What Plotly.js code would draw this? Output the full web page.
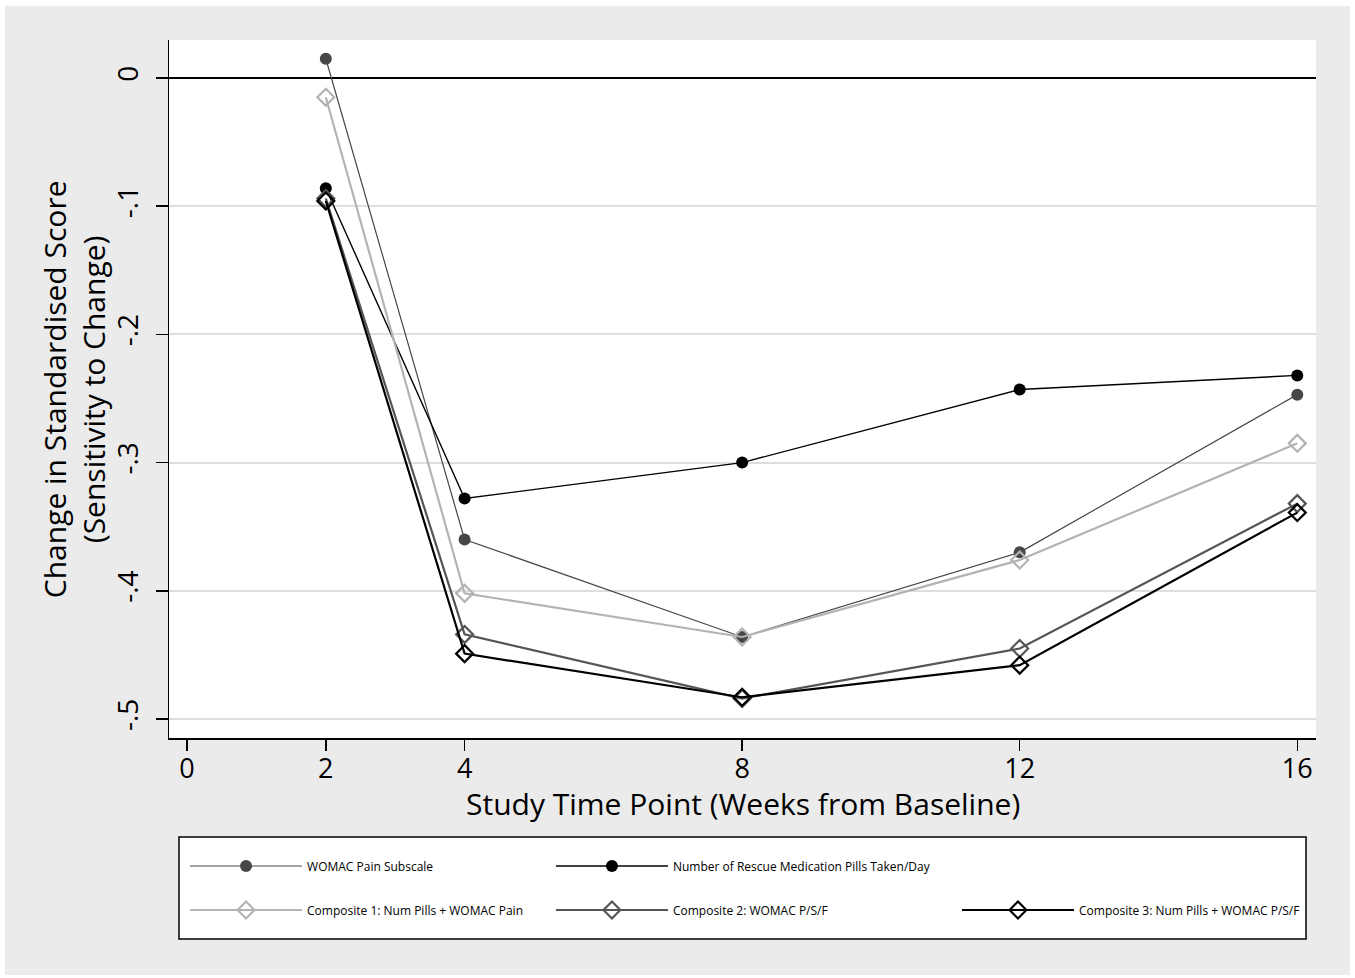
<!DOCTYPE html>
<html><head><meta charset="utf-8">
<script src="https://cdn.plot.ly/plotly-3.0.1.min.js"></script>
<style>html,body{margin:0;padding:0;background:#fff;}#chart{position:absolute;left:5px;top:6px;width:1345px;height:969px;}</style>
</head><body><div id="chart"></div>
<script>
const weeks = [2, 4, 8, 12, 16];
const womacPain = [0.015, -0.360, -0.436, -0.370, -0.247];
const rescuePills = [-0.086, -0.328, -0.300, -0.243, -0.232];
const composite1 = [-0.015, -0.402, -0.436, -0.376, -0.285];
const composite2 = [-0.094, -0.434, -0.484, -0.445, -0.332];
const composite3 = [-0.096, -0.449, -0.483, -0.458, -0.339];
const seriesNames = ["WOMAC Pain Subscale", "Number of Rescue Medication Pills Taken/Day",
  "Composite 1: Num Pills + WOMAC Pain", "Composite 2: WOMAC P/S/F", "Composite 3: Num Pills + WOMAC P/S/F"];
const xTicks = [0, 2, 4, 8, 12, 16];
const yTicks = [0, -0.1, -0.2, -0.3, -0.4, -0.5];
const yTickLabels = ["0", "-.1", "-.2", "-.3", "-.4", "-.5"];
const xTitle = 'Study Time Point (Weeks from Baseline)';
const yTitle = 'Change in Standardised Score<br>(Sensitivity to Change)';

const traces = [
  {x: weeks, y: womacPain, name: seriesNames[0], legend: 'legend', mode: 'lines+markers',
   line: {color: '#474747', width: 1.2}, marker: {symbol: 'circle', size: 12, color: '#474747'}},
  {x: weeks, y: rescuePills, name: seriesNames[1], legend: 'legend2', mode: 'lines+markers',
   line: {color: '#000000', width: 1.4}, marker: {symbol: 'circle', size: 12, color: '#000000'}},
  {x: weeks, y: composite1, name: seriesNames[2], legend: 'legend3', mode: 'lines+markers',
   line: {color: '#b3b3b3', width: 2.2}, marker: {symbol: 'diamond-open', size: 13, color: '#b3b3b3', line: {width: 2.2, color: '#b3b3b3'}}},
  {x: weeks, y: composite2, name: seriesNames[3], legend: 'legend4', mode: 'lines+markers',
   line: {color: '#555555', width: 2.2}, marker: {symbol: 'diamond-open', size: 13, color: '#555555', line: {width: 2.2, color: '#555555'}}},
  {x: weeks, y: composite3, name: seriesNames[4], legend: 'legend5', mode: 'lines+markers',
   line: {color: '#000000', width: 2.2}, marker: {symbol: 'diamond-open', size: 13, color: '#000000', line: {width: 2.2, color: '#000000'}}}
];

const legFont = {family: 'Open Sans, sans-serif', size: 12, color: '#000'};
function leg(x, y) {
  return {x: x, y: y, xanchor: 'left', yanchor: 'middle', bgcolor: 'rgba(0,0,0,0)', borderwidth: 0,
          font: legFont, itemwidth: 112, itemclick: false, itemdoubleclick: false};
}
const c1 = 0.0140, c2 = 0.3330, c3 = 0.6870, r1 = -0.1834, r2 = -0.2464;

const layout = {
  width: 1345, height: 969,
  paper_bgcolor: '#ebebeb', plot_bgcolor: '#ffffff',
  margin: {l: 164, r: 34, t: 34, b: 237},
  font: {family: 'Open Sans, sans-serif', color: '#000'},
  xaxis: {
    range: [-0.26, 16.27], tickvals: xTicks, ticktext: xTicks.map(String),
    showgrid: false, zeroline: false, showline: true, linecolor: '#000', linewidth: 1.5,
    ticks: 'outside', ticklen: 11, tickwidth: 1.5, tickcolor: '#000',
    ticklabelstandoff: -5,
    tickfont: {size: 27, family: 'Open Sans, sans-serif'}
  },
  yaxis: {
    range: [-0.5148, 0.0296], tickvals: yTicks, ticktext: yTickLabels, tickangle: -90,
    showgrid: true, gridcolor: '#dedede', gridwidth: 2,
    zeroline: true, zerolinecolor: '#000', zerolinewidth: 2,
    showline: true, linecolor: '#000', linewidth: 1.5,
    ticks: 'outside', ticklen: 12, tickwidth: 1.5, tickcolor: '#000',
    ticklabelstandoff: 6,
    tickfont: {size: 28, family: 'Open Sans, sans-serif'}
  },
  annotations: [
    {text: xTitle, xref: 'paper', yref: 'paper', x: 0.5, y: -0.0935, xanchor: 'center', yanchor: 'middle',
     showarrow: false, font: {size: 30, color: '#000'}},
    {text: yTitle, xref: 'paper', yref: 'paper', x: -0.0826, y: 0.5, xanchor: 'center', yanchor: 'middle',
     textangle: -90, showarrow: false, font: {size: 30, color: '#000'}}
  ],
  legend: leg(c1, r1), legend2: leg(c2, r1), legend3: leg(c1, r2), legend4: leg(c2, r2), legend5: leg(c3, r2),
  shapes: [{type: 'rect', xref: 'paper', yref: 'paper', x0: 0.00872, x1: 0.9913, y0: -0.288, y1: -0.1418,
            line: {color: '#000', width: 1.5}, fillcolor: '#ffffff', layer: 'below'}],
  showlegend: true
};
Plotly.newPlot('chart', traces, layout, {displayModeBar: false, staticPlot: true});
</script></body></html>
